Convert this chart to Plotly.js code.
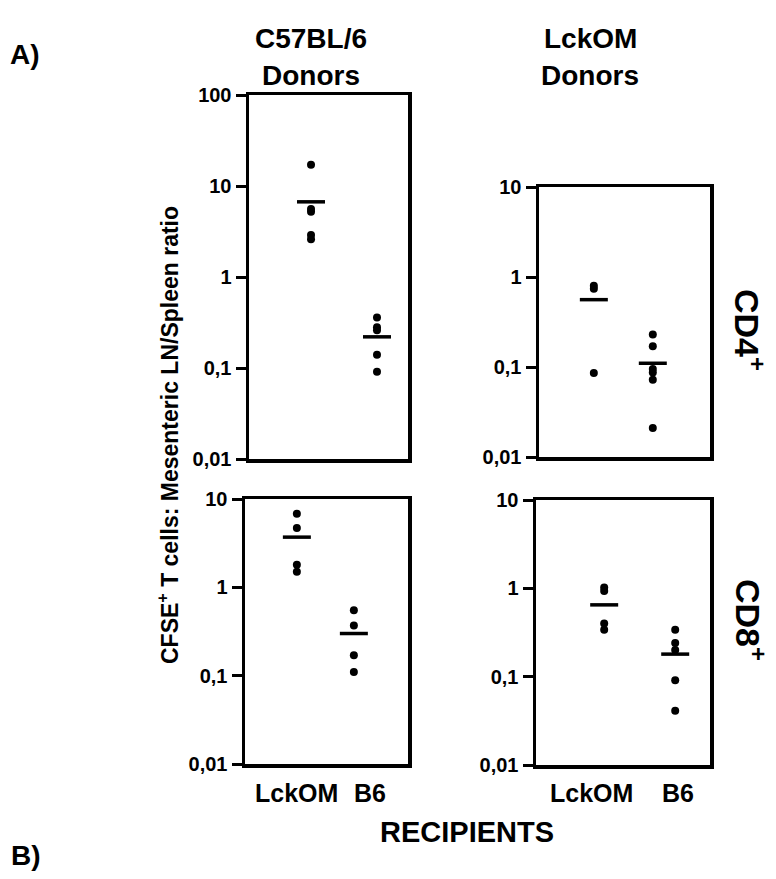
<!DOCTYPE html>
<html>
<head>
<meta charset="utf-8">
<script src="https://cdn.plot.ly/plotly-3.0.1.min.js"></script>
<style>html,body{margin:0;padding:0;background:#fff;}#chart{width:776px;height:879px;}</style>
</head>
<body>
<div id="chart"></div>
<script>
// ---- data ----
const categories = ['LckOM', 'B6'];
const tickVals = [0.01, 0.1, 1, 10, 100];
const tickText = ['0,01', '0,1', '1', '10', '100'];

// CD4+, C57BL/6 donors
const cd4_b6Donor_lckom = [17.1, 5.6, 5.2, 2.9, 2.6];
const cd4_b6Donor_b6 = [0.36, 0.28, 0.26, 0.14, 0.091];
const cd4_b6Donor_mean = [6.7, 0.22];
// CD4+, LckOM donors
const cd4_omDonor_lckom = [0.80, 0.74, 0.086];
const cd4_omDonor_b6 = [0.23, 0.17, 0.095, 0.087, 0.072, 0.021];
const cd4_omDonor_mean = [0.56, 0.11];
// CD8+, C57BL/6 donors
const cd8_b6Donor_lckom = [6.8, 4.7, 1.8, 1.5];
const cd8_b6Donor_b6 = [0.55, 0.37, 0.17, 0.11];
const cd8_b6Donor_mean = [3.7, 0.30];
// CD8+, LckOM donors
const cd8_omDonor_lckom = [1.02, 0.93, 0.40, 0.34];
const cd8_omDonor_b6 = [0.34, 0.24, 0.20, 0.091, 0.041];
const cd8_omDonor_mean = [0.65, 0.18];

const donorTitles = ['C57BL/6', 'Donors', 'LckOM', 'Donors'];
const rowLabels = ['CD4<sup>+</sup>', 'CD8<sup>+</sup>'];
const yTitle = 'CFSE<sup>+</sup> T cells: Mesenteric LN/Spleen ratio';
const xTitle = 'RECIPIENTS';

// ---- layout helpers ----
const W = 776, H = 879;
const px = v => v / W;
const py = v => 1 - v / H;
const FONT = 'Liberation Sans, Arial, Helvetica, sans-serif';

const panels = [
  {lck: cd4_b6Donor_lckom, b6: cd4_b6Donor_b6, mean: cd4_b6Donor_mean,
   dom: [249, 408, 95, 459], xr: [-0.94, 1.47], yr: [-2, 2]},
  {lck: cd4_omDonor_lckom, b6: cd4_omDonor_b6, mean: cd4_omDonor_mean,
   dom: [539, 710, 187, 457], xr: [-0.93, 1.97], yr: [-2, 1]},
  {lck: cd8_b6Donor_lckom, b6: cd8_b6Donor_b6, mean: cd8_b6Donor_mean,
   dom: [245, 408, 499, 764], xr: [-0.91, 1.95], yr: [-2, 1]},
  {lck: cd8_omDonor_lckom, b6: cd8_omDonor_b6, mean: cd8_omDonor_mean,
   dom: [536, 710, 500, 765], xr: [-0.96, 1.49], yr: [-2, 1]}
];

const traces = [];
const layout = {
  width: W, height: H,
  margin: {l: 0, r: 0, t: 0, b: 0},
  paper_bgcolor: '#fff', plot_bgcolor: '#fff',
  showlegend: false,
  font: {family: FONT, color: '#000'},
  annotations: []
};

panels.forEach((p, i) => {
  const n = i === 0 ? '' : String(i + 1);
  const xa = 'x' + n, ya = 'y' + n;
  traces.push({
    type: 'scatter', mode: 'markers', xaxis: xa, yaxis: ya,
    x: p.lck.map(() => categories[0]).concat(p.b6.map(() => categories[1])),
    y: p.lck.concat(p.b6),
    marker: {color: '#000', size: 8, symbol: 'circle'},
    hoverinfo: 'y'
  });
  traces.push({
    type: 'scatter', mode: 'markers', xaxis: xa, yaxis: ya,
    x: categories, y: p.mean,
    marker: {color: '#000', size: 20, symbol: 'line-ew', line: {color: '#000', width: 3.5}},
    hoverinfo: 'y'
  });
  layout['xaxis' + n] = {
    type: 'category', categoryarray: categories,
    domain: [px(p.dom[0]), px(p.dom[1])], range: p.xr,
    anchor: ya, showline: true, mirror: true, linewidth: 3.5, linecolor: '#000',
    showgrid: false, zeroline: false, showticklabels: false, ticks: '', fixedrange: true
  };
  layout['yaxis' + n] = {
    type: 'log', range: p.yr,
    domain: [py(p.dom[3]), py(p.dom[2])],
    anchor: xa, showline: true, mirror: true, linewidth: 3.5, linecolor: '#000',
    showgrid: false, zeroline: false,
    tickmode: 'array', tickvals: tickVals, ticktext: tickText,
    ticks: 'outside', ticklen: 10, tickwidth: 3, tickcolor: '#000',
    tickfont: {family: FONT, size: 20, weight: 700, color: '#000'},
    fixedrange: true
  };
});

const ann = (text, x, y, size, extra) => Object.assign({
  text: text, xref: 'paper', yref: 'paper', x: px(x), y: py(y),
  xanchor: 'center', yanchor: 'middle', showarrow: false,
  font: {family: FONT, size: size, weight: 700, color: '#000'}
}, extra || {});

layout.annotations.push(
  ann('A)', 25, 55, 28),
  ann('B)', 26, 855, 28),
  ann(donorTitles[0], 311, 38, 28),
  ann(donorTitles[1], 311, 75, 28),
  ann(donorTitles[2], 590, 38, 28),
  ann(donorTitles[3], 590, 75, 28),
  ann(rowLabels[0], 750, 330, 34, {textangle: 90}),
  ann(rowLabels[1], 751, 620, 34, {textangle: 90}),
  ann(yTitle, 168, 435, 23, {textangle: -90}),
  ann(categories[0], 296, 793, 25),
  ann(categories[1], 370, 793, 25),
  ann(categories[0], 591, 793, 25),
  ann(categories[1], 678, 793, 25),
  ann(xTitle, 467, 832, 29)
);

Plotly.newPlot('chart', traces, layout, {displayModeBar: false, staticPlot: true});
</script>
</body>
</html>
